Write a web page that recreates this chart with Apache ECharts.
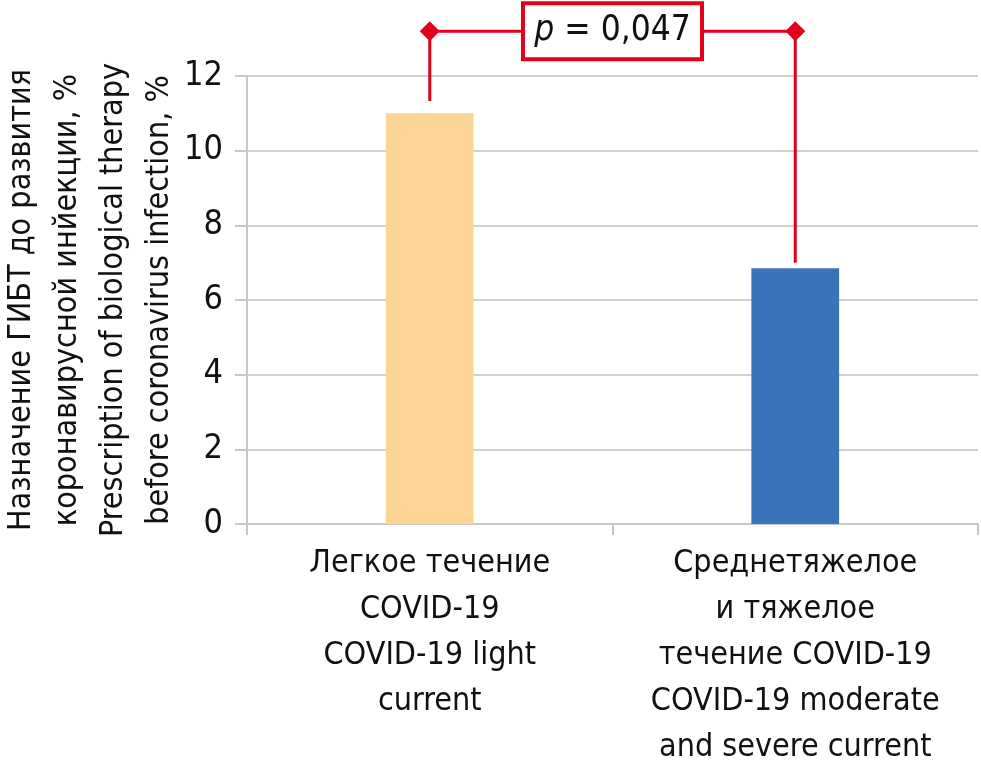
<!DOCTYPE html>
<html><head><meta charset="utf-8">
<script src="https://cdn.jsdelivr.net/npm/echarts@6/dist/echarts.min.js"></script>
<style>html,body{margin:0;padding:0;background:#fff}#c{width:981px;height:768px}</style>
</head><body><div id="c"></div>
<script>
const categories = [
  'Легкое течение\nCOVID-19\nCOVID-19 light\ncurrent',
  'Среднетяжелое\nи тяжелое\nтечение COVID-19\nCOVID-19 moderate\nand severe current'
];
const values = [11.0, 6.85];
const barColors = ['#FCD594', '#3A73B8'];
const yTicks = [0, 2, 4, 6, 8, 10, 12];
const yName = 'Назначение ГИБТ до развития\nкоронавирусной инйекции, %\nPrescription of biological therapy\nbefore coronavirus infection, %';
const pText = '0,047';
const bracketTop = 13.2;
const bracketEnds = [11.33, 7.0];

const FONT = '"Liberation Sans Narrow","DejaVu Sans Condensed","Roboto",sans-serif';
const chart = echarts.init(document.getElementById('c'));
chart.setOption({
  animation: false,
  grid: { left: 247, right: 3, top: 76, bottom: 244, containLabel: false, outerBoundsMode: 'none' },
  xAxis: {
    type: 'category', data: categories,
    axisLine: { lineStyle: { color: '#c8c8c8', width: 2 } },
    axisTick: { show: true, length: 11, lineStyle: { color: '#c8c8c8', width: 2 } },
    axisLabel: { color: '#111', fontFamily: FONT, fontSize: 32, lineHeight: 46, margin: 17, interval: 0 }
  },
  yAxis: {
    type: 'value', min: yTicks[0], max: yTicks[yTicks.length - 1], interval: 2,
    axisLine: { show: true, lineStyle: { color: '#c8c8c8', width: 2 } },
    axisTick: { show: true, length: 12, lineStyle: { color: '#c8c8c8', width: 2 } },
    splitLine: { lineStyle: { color: '#d0d0d0', width: 2 } },
    axisLabel: { color: '#111', fontFamily: FONT, fontSize: 34, margin: 24 }
  },
  series: [{
    type: 'bar', barWidth: '24%',
    data: values.map((v, i) => ({ value: v, itemStyle: { color: barColors[i] } }))
  }]
});

function drawBracket() {
  const red = '#E3001B';
  const pTop0 = chart.convertToPixel({ seriesIndex: 0 }, [0, bracketTop]);
  const pTop1 = chart.convertToPixel({ seriesIndex: 0 }, [1, bracketTop]);
  const pEnd0 = chart.convertToPixel({ seriesIndex: 0 }, [0, bracketEnds[0]]);
  const pEnd1 = chart.convertToPixel({ seriesIndex: 0 }, [1, bracketEnds[1]]);
  const mid = chart.convertToPixel({ seriesIndex: 0 }, [0, (yTicks[0] + yTicks[yTicks.length - 1]) / 2]);
  const cx = (pTop0[0] + pTop1[0]) / 2;
  const y = pTop0[1];
  const d = 10;
  const boxW = 179, boxH = 56;
  chart.setOption({
    graphic: [
      { type: 'text', x: 91, y: mid[1], rotation: Math.PI / 2,
        style: { text: yName, align: 'center', verticalAlign: 'middle', fontFamily: FONT,
          fontSize: 32, lineHeight: 46, fill: '#111' } },
      { type: 'polyline', shape: { points: [[pEnd0[0], pEnd0[1]], [pTop0[0], y], [pTop1[0], y], [pEnd1[0], pEnd1[1]]] },
        style: { stroke: red, lineWidth: 3, fill: null }, z: 10 },
      { type: 'polygon', shape: { points: [[pTop0[0] - d, y], [pTop0[0], y - d], [pTop0[0] + d, y], [pTop0[0], y + d]] },
        style: { fill: red }, z: 11 },
      { type: 'polygon', shape: { points: [[pTop1[0] - d, y], [pTop1[0], y - d], [pTop1[0] + d, y], [pTop1[0], y + d]] },
        style: { fill: red }, z: 11 },
      { type: 'rect', shape: { x: cx - boxW / 2, y: y - boxH / 2, width: boxW, height: boxH },
        style: { fill: '#fff', stroke: red, lineWidth: 4 }, z: 12 },
      { type: 'text', x: cx, y: y, z: 13,
        style: { text: '{i|p} = ' + pText, align: 'center', verticalAlign: 'middle',
          fontFamily: FONT, fontSize: 35, fill: '#111',
          rich: { i: { fontStyle: 'italic', fontFamily: FONT, fontSize: 35, fill: '#111' } } } }
    ]
  });
}
drawBracket();
</script>
</body></html>
